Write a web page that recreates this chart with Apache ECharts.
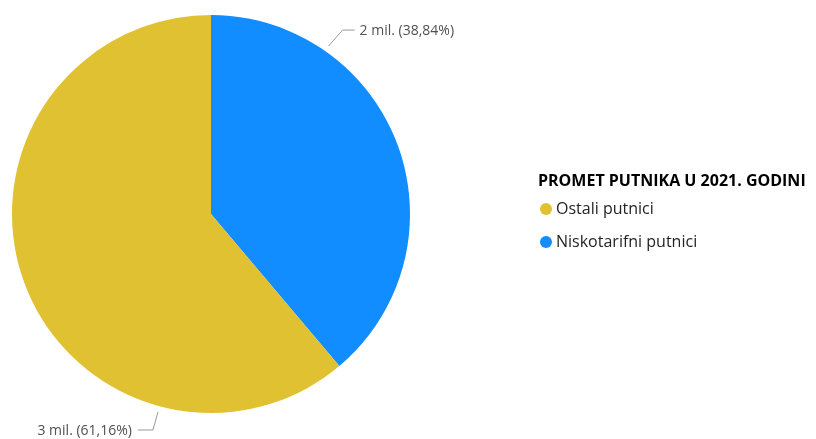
<!DOCTYPE html>
<html>
<head>
<meta charset="utf-8">
<script src="https://cdn.jsdelivr.net/npm/echarts@6/dist/echarts.min.js"></script>
<style>html,body{margin:0;padding:0;background:#fff}#c{width:816px;height:439px}</style>
</head>
<body>
<div id="c"></div>
<script>
var categories = ['Niskotarifni putnici', 'Ostali putnici'];
var values = [1950000, 3070000];
var legendOrder = ['Ostali putnici', 'Niskotarifni putnici'];
var colors = ['#118DFF', '#E0C132'];
var title = 'PROMET PUTNIKA U 2021. GODINI';

var CX = 211, CY = 214, R = 199;
// label anchor angles (degrees clockwise from top), Power BI style placement
var anchorAngle = [35, 195];

var chart = echarts.init(document.getElementById('c'), null, {renderer: 'canvas'});
var font = '"Open Sans", "Noto Sans", sans-serif';

chart.setOption({
  animation: false,
  color: colors,
  title: {
    text: title,
    left: 533, top: 168,
    textStyle: {fontFamily: font, fontSize: 16, fontWeight: 'bold', color: '#000'}
  },
  legend: {
    data: legendOrder,
    orient: 'vertical',
    left: 535, top: 193,
    icon: 'circle',
    itemWidth: 12, itemHeight: 12,
    itemGap: 11,
    textStyle: {fontFamily: font, fontSize: 16, color: '#252423', lineHeight: 22, padding: [0,0,0,-1]}
  },
  series: [{
    type: 'pie',
    center: [CX, CY],
    radius: R,
    startAngle: 90,
    clockwise: true,
    percentPrecision: 2,
    avoidLabelOverlap: false,
    data: categories.map(function (c, i) { return {name: c, value: values[i]}; }),
    label: {
      show: true,
      position: 'outside',
      overflow: 'none',
      fontFamily: font,
      fontSize: 14,
      color: '#505050',
      formatter: function (p) {
        return Math.round(p.value / 1e6) + ' mil. (' + p.percent.toFixed(2).replace('.', ',') + '%)';
      }
    },
    labelLine: {show: true, lineStyle: {color: '#999', width: 1}},
    labelLayout: function (p) {
      var a = anchorAngle[p.dataIndex] * Math.PI / 180;
      var rr = R + 6;
      var x0 = CX + rr * Math.sin(a), y0 = CY - rr * Math.cos(a);
      if (p.dataIndex === 0) {
        var x1 = x0 + 14, y1 = y0 - 16, x2 = x1 + 12;
        return {x: x2 + 5, y: y1 + 1, align: 'left', verticalAlign: 'middle', hideOverlap: false,
          labelLinePoints: [[x0, y0], [x1, y1], [x2, y1]]};
      } else {
        var x1b = x0 - 5, y1b = y0 + 18, x2b = x1b - 15;
        return {x: x2b - 6, y: y1b + 1, align: 'right', verticalAlign: 'middle', hideOverlap: false,
          labelLinePoints: [[x0, y0], [x1b, y1b], [x2b, y1b]]};
      }
    },
    itemStyle: {borderWidth: 0},
    emphasis: {disabled: true}
  }]
});
</script>
</body>
</html>
